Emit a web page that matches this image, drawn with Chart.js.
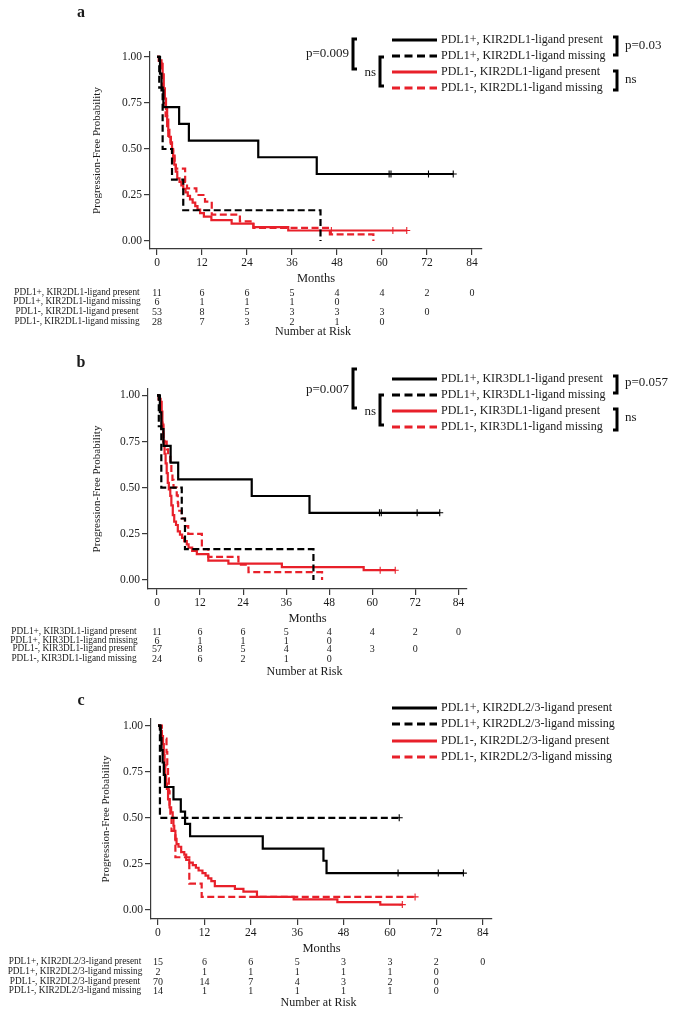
<!DOCTYPE html>
<html>
<head>
<meta charset="utf-8">
<script src="https://cdn.jsdelivr.net/npm/chart.js@4.4.1/dist/chart.umd.min.js"></script>
<style>
  html, body { margin: 0; padding: 0; background: #fff; }
  #wrap { position: relative; width: 681px; height: 1016px; }
  canvas { position: absolute; left: 0; }
</style>
</head>
<body>
<div id="wrap">
  <canvas id="panelA" width="681" height="340" style="top:0"></canvas>
  <canvas id="panelB" width="681" height="340" style="top:340px"></canvas>
  <canvas id="panelC" width="681" height="336" style="top:680px"></canvas>
</div>
<script>
// Kaplan-Meier panels (a, b, c) with legends and number-at-risk tables

const MONTH_TICKS = [0, 12, 24, 36, 48, 60, 72, 84];
const PROB_TICKS = [0, 0.25, 0.5, 0.75, 1];

// ---- panel a: KIR2DL1 ----
const A_NAMES = [
    'PDL1+, KIR2DL1-ligand present',
    'PDL1+, KIR2DL1-ligand missing',
    'PDL1-, KIR2DL1-ligand present',
    'PDL1-, KIR2DL1-ligand missing'
];
const A_POS_PRESENT = [[0,1],[0.8,0.909],[1.2,0.818],[1.7,0.727],[5.9,0.636],[8.5,0.545],[27,0.455],[42.6,0.364],[79,0.364]];
const A_POS_MISSING = [[0,1],[0.6,0.833],[1.5,0.5],[4,0.333],[7,0.167],[43.6,0]];
const A_NEG_PRESENT = [[0,1],[0.5,0.981],[1.2,0.962],[1.5,0.906],[1.8,0.83],[2.1,0.774],[2.4,0.717],[2.7,0.66],[3.0,0.604],[3.3,0.566],[3.7,0.528],[4.0,0.491],[4.3,0.453],[4.6,0.415],[5.0,0.377],[5.4,0.34],[6.0,0.321],[6.5,0.302],[7.0,0.283],[7.6,0.264],[8.2,0.245],[8.8,0.226],[9.5,0.208],[10.2,0.189],[10.8,0.17],[11.5,0.151],[12.5,0.132],[14.5,0.113],[19.9,0.094],[25.7,0.075],[35,0.057],[66.6,0.057]];
const A_NEG_MISSING = [[0,1],[0.5,0.964],[1.3,0.893],[1.6,0.821],[2.0,0.75],[2.3,0.679],[2.7,0.607],[3.0,0.571],[3.6,0.536],[4.0,0.5],[4.3,0.464],[4.7,0.429],[5.0,0.393],[7.5,0.321],[8.0,0.286],[10.5,0.25],[12.8,0.214],[14.6,0.143],[22.1,0.107],[25.7,0.071],[46.1,0.036],[57.7,0]];
const A_CENSORED = [[61.9, 62.4, 72.4, 79], [], [46.5, 62.9, 66.6], []];
const A_AT_RISK = [[11, 6, 6, 5, 4, 4, 2, 0], [6, 1, 1, 1, 0], [53, 8, 5, 3, 3, 3, 0], [28, 7, 3, 2, 1, 0]];

// ---- panel b: KIR3DL1 ----
const B_NAMES = [
    'PDL1+, KIR3DL1-ligand present',
    'PDL1+, KIR3DL1-ligand missing',
    'PDL1-, KIR3DL1-ligand present',
    'PDL1-, KIR3DL1-ligand missing'
];
const B_POS_PRESENT = [[0,1],[0.8,0.909],[1.2,0.818],[1.8,0.727],[3.8,0.636],[5.9,0.545],[26.4,0.455],[42.5,0.364],[78.8,0.364]];
const B_POS_MISSING = [[0,1],[0.5,0.833],[1.2,0.5],[6.9,0.333],[7.8,0.167],[43.6,0]];
const B_NEG_PRESENT = [[0,1],[0.5,0.982],[1.0,0.965],[1.3,0.912],[1.5,0.842],[1.8,0.754],[2.1,0.684],[2.4,0.632],[2.7,0.579],[3.0,0.526],[3.3,0.491],[3.7,0.456],[4.0,0.404],[4.4,0.351],[4.8,0.316],[5.3,0.298],[5.8,0.263],[6.4,0.246],[7.0,0.228],[7.6,0.211],[8.3,0.193],[8.8,0.175],[9.8,0.158],[11.1,0.14],[14.3,0.105],[19.9,0.088],[34.8,0.07],[57.6,0.053],[66.4,0.053]];
const B_NEG_MISSING = [[0,1],[0.5,0.958],[1.0,0.917],[1.3,0.875],[1.5,0.833],[1.7,0.792],[1.8,0.75],[2.7,0.708],[3.1,0.667],[3.7,0.625],[4.0,0.583],[4.3,0.542],[4.6,0.5],[5.5,0.458],[5.8,0.417],[5.9,0.375],[6.9,0.333],[7.8,0.292],[8.7,0.25],[12.5,0.167],[14.3,0.125],[22.7,0.083],[25.5,0.042],[46,0]];
const B_CENSORED = [[62, 62.5, 72.5, 78.8], [], [62.2, 66.4], []];
const B_AT_RISK = [[11, 6, 6, 5, 4, 4, 2, 0], [6, 1, 1, 1, 0], [57, 8, 5, 4, 4, 3, 0], [24, 6, 2, 1, 0]];

// ---- panel c: KIR2DL2/3 ----
const C_NAMES = [
    'PDL1+, KIR2DL2/3-ligand present',
    'PDL1+, KIR2DL2/3-ligand missing',
    'PDL1-, KIR2DL2/3-ligand present',
    'PDL1-, KIR2DL2/3-ligand missing'
];
const C_POS_PRESENT = [[0,1],[0.7,0.933],[0.9,0.867],[1.2,0.8],[1.5,0.733],[1.8,0.667],[4.0,0.6],[5.9,0.533],[7.0,0.467],[8.3,0.4],[27.1,0.333],[42.8,0.267],[43.6,0.2],[79,0.2]];
const C_POS_MISSING = [[0,1],[0.5,0.5],[62.4,0.5]];
const C_NEG_PRESENT = [[0,1],[0.5,0.986],[0.8,0.971],[1.0,0.943],[1.3,0.9],[1.5,0.843],[1.7,0.786],[1.9,0.729],[2.1,0.686],[2.3,0.657],[2.6,0.6],[3.0,0.557],[3.4,0.529],[3.8,0.5],[4.0,0.457],[4.2,0.429],[4.5,0.386],[4.8,0.357],[5.3,0.343],[6.0,0.314],[6.8,0.3],[7.3,0.271],[8.1,0.257],[9.0,0.243],[9.8,0.229],[10.5,0.214],[11.5,0.2],[12.3,0.186],[13.0,0.171],[13.8,0.157],[14.7,0.129],[19.9,0.114],[22.1,0.1],[25.6,0.071],[35.1,0.057],[46.4,0.043],[57.5,0.029],[63.2,0.029]];
const C_NEG_MISSING = [[0,1],[1.0,0.929],[2.2,0.857],[2.4,0.786],[2.6,0.714],[2.8,0.643],[3.0,0.571],[3.2,0.5],[3.5,0.429],[4.5,0.286],[8.1,0.143],[11.3,0.071],[66.5,0.071]];
const C_CENSORED = [[62.1, 72.5, 79], [62.4], [63.2], [66.5]];
const C_AT_RISK = [[15, 6, 6, 5, 3, 3, 2, 0], [2, 1, 1, 1, 1, 1, 0], [70, 14, 7, 4, 3, 2, 0], [14, 1, 1, 1, 1, 1, 0]];

// ---- styling ----
const SERIF = "'Liberation Serif', 'Times New Roman', serif";
const TEXT_COLOR = '#1a1a1a';
const AXIS_COLOR = '#3a3a3a';
const RED = '#e8202a';
const SERIES_COLORS = ['#000000', '#000000', RED, RED];
const SERIES_DASHED = [false, true, false, true];
const X_AXIS_HEIGHT = 37;

// survival value of a step curve at time t
function survivalAt(steps, t) {
    let s = steps[0][1];
    steps.forEach(([time, value]) => {
        if (time <= t) s = value;
    });
    return s;
}

// legend, brackets, letter and number-at-risk table
function decorPlugin(p) {
    return {
        id: 'decor_' + p.letter,
        afterDraw(chart) {
            const ctx = chart.ctx;
            const xScale = chart.scales.x;
            ctx.save();
            ctx.fillStyle = TEXT_COLOR;
            ctx.textBaseline = 'middle';

            // panel letter
            ctx.font = 'bold 16px ' + SERIF;
            ctx.textAlign = 'center';
            ctx.fillText(p.letter, 81, p.letterY);

            // legend
            ctx.font = '12px ' + SERIF;
            ctx.textAlign = 'left';
            p.names.forEach((name, i) => {
                const y = p.legendY[i];
                ctx.beginPath();
                ctx.setLineDash(SERIES_DASHED[i] ? [8, 4.5] : []);
                ctx.strokeStyle = SERIES_COLORS[i];
                ctx.lineWidth = 3;
                ctx.moveTo(392, y);
                ctx.lineTo(437, y);
                ctx.stroke();
                ctx.fillText(name, 441, y);
            });
            ctx.setLineDash([]);

            // significance brackets
            ctx.strokeStyle = '#000';
            ctx.lineWidth = 3;
            ctx.font = '13px ' + SERIF;
            p.brackets.forEach(b => {
                const arm = b.side === 'left' ? 4 : -4;
                ctx.beginPath();
                ctx.moveTo(b.x + arm, b.y1);
                ctx.lineTo(b.x, b.y1);
                ctx.lineTo(b.x, b.y2);
                ctx.lineTo(b.x + arm, b.y2);
                ctx.stroke();
                if (b.side === 'left') {
                    ctx.textAlign = 'right';
                    ctx.fillText(b.text, b.x - 4, b.ty);
                } else {
                    ctx.textAlign = 'left';
                    ctx.fillText(b.text, b.x + 8, b.ty);
                }
            });

            // number at risk
            ctx.textAlign = 'center';
            p.risk.forEach((row, r) => {
                const y = p.riskY[r];
                ctx.font = '9.3px ' + SERIF;
                ctx.fillText(p.names[r], p.riskLabelX, y);
                ctx.font = '10px ' + SERIF;
                row.forEach((n, j) => {
                    ctx.fillText(String(n), xScale.getPixelForValue(MONTH_TICKS[j]), y);
                });
            });
            ctx.font = '12px ' + SERIF;
            const mid = (chart.chartArea.left + chart.chartArea.right) / 2 - 3;
            ctx.fillText('Number at Risk', mid, p.riskTitleY);
            ctx.restore();
        }
    };
}

function buildPanel(p) {
    const datasets = [];
    p.curves.forEach((steps, i) => {
        datasets.push({
            type: 'line',
            label: p.names[i],
            data: steps.map(([t, s]) => ({ x: t, y: s })),
            borderColor: SERIES_COLORS[i],
            borderWidth: 2.2,
            borderDash: SERIES_DASHED[i] ? [7, 3.5] : [],
            stepped: 'before',
            pointRadius: 0,
            fill: false
        });
    });
    p.censored.forEach((times, i) => {
        if (!times.length) return;
        datasets.push({
            type: 'scatter',
            label: p.names[i] + ' censored',
            data: times.map(t => ({ x: t, y: survivalAt(p.curves[i], t) })),
            pointStyle: 'cross',
            pointRadius: 3.5,
            borderWidth: 1.1,
            borderColor: SERIES_COLORS[i],
            backgroundColor: SERIES_COLORS[i]
        });
    });

    const canvas = document.getElementById(p.canvas);
    const W = canvas.width;
    const H = canvas.height;

    const axisGrid = {
        drawOnChartArea: false,
        drawTicks: true,
        tickLength: 6,
        color: AXIS_COLOR,
        lineWidth: 1.2
    };

    return new Chart(canvas.getContext('2d'), {
        type: 'line',
        data: { datasets: datasets },
        options: {
            responsive: false,
            animation: false,
            devicePixelRatio: 1,
            layout: {
                padding: {
                    left: p.titlePad,
                    top: p.area.top,
                    right: W - p.area.right,
                    bottom: H - p.area.bottom - X_AXIS_HEIGHT
                }
            },
            plugins: {
                legend: { display: false },
                tooltip: { enabled: false }
            },
            scales: {
                x: {
                    type: 'linear',
                    min: p.xMin,
                    max: p.xMax,
                    afterBuildTicks: s => { s.ticks = MONTH_TICKS.map(v => ({ value: v })); },
                    afterFit: s => { s.height = X_AXIS_HEIGHT; },
                    grid: axisGrid,
                    border: { display: true, color: AXIS_COLOR, width: 1.2 },
                    ticks: {
                        font: { family: SERIF, size: 11.5 },
                        color: TEXT_COLOR,
                        padding: 1,
                        maxRotation: 0,
                        autoSkip: false
                    },
                    title: {
                        display: true,
                        text: 'Months',
                        font: { family: SERIF, size: 12.5 },
                        color: TEXT_COLOR,
                        padding: { top: 0, bottom: 0 }
                    }
                },
                y: {
                    type: 'linear',
                    min: p.yMin,
                    max: p.yMax,
                    afterBuildTicks: s => { s.ticks = PROB_TICKS.map(v => ({ value: v })); },
                    afterFit: s => { s.width = p.area.left - p.titlePad; },
                    grid: axisGrid,
                    border: { display: true, color: AXIS_COLOR, width: 1.2 },
                    ticks: {
                        font: { family: SERIF, size: 11.5 },
                        color: TEXT_COLOR,
                        padding: 2,
                        callback: v => Number(v).toFixed(2)
                    },
                    title: {
                        display: true,
                        text: 'Progression-Free Probability',
                        font: { family: SERIF, size: 11 },
                        color: TEXT_COLOR,
                        padding: { top: 6.4, bottom: 0 }
                    }
                }
            }
        },
        plugins: [decorPlugin(p)]
    });
}

buildPanel({
    canvas: 'panelA',
    letter: 'a',
    letterY: 13,
    names: A_NAMES,
    curves: [A_POS_PRESENT, A_POS_MISSING, A_NEG_PRESENT, A_NEG_MISSING],
    censored: A_CENSORED,
    risk: A_AT_RISK,
    area: { left: 150, top: 52, right: 482, bottom: 249 },
    titlePad: 84,
    xMin: -1.87, xMax: 86.67,
    yMin: -0.0435, yMax: 1.027,
    legendY: [40, 56, 72, 88],
    riskY: [293, 302, 312, 322],
    riskLabelX: 77,
    riskTitleY: 332,
    brackets: [
        { side: 'left', x: 353, y1: 39, y2: 69, text: 'p=0.009', ty: 54 },
        { side: 'left', x: 380, y1: 57, y2: 86, text: 'ns', ty: 73 },
        { side: 'right', x: 617, y1: 37, y2: 55, text: 'p=0.03', ty: 46 },
        { side: 'right', x: 617, y1: 71, y2: 90, text: 'ns', ty: 80 }
    ]
});

buildPanel({
    canvas: 'panelB',
    letter: 'b',
    letterY: 23,
    names: B_NAMES,
    curves: [B_POS_PRESENT, B_POS_MISSING, B_NEG_PRESENT, B_NEG_MISSING],
    censored: B_CENSORED,
    risk: B_AT_RISK,
    area: { left: 148, top: 49, right: 467, bottom: 249 },
    titlePad: 84,
    xMin: -2.51, xMax: 86.4,
    yMin: -0.049, yMax: 1.035,
    legendY: [39, 55, 71, 87],
    riskY: [292, 301, 309, 319],
    riskLabelX: 74,
    riskTitleY: 332,
    brackets: [
        { side: 'left', x: 353, y1: 29, y2: 68, text: 'p=0.007', ty: 50 },
        { side: 'left', x: 380, y1: 55, y2: 85, text: 'ns', ty: 72 },
        { side: 'right', x: 617, y1: 36, y2: 53, text: 'p=0.057', ty: 43 },
        { side: 'right', x: 617, y1: 69, y2: 90, text: 'ns', ty: 78 }
    ]
});

buildPanel({
    canvas: 'panelC',
    letter: 'c',
    letterY: 21,
    names: C_NAMES,
    curves: [C_POS_PRESENT, C_POS_MISSING, C_NEG_PRESENT, C_NEG_MISSING],
    censored: C_CENSORED,
    risk: C_AT_RISK,
    area: { left: 151, top: 39, right: 492, bottom: 239 },
    titlePad: 93,
    xMin: -1.81, xMax: 86.4,
    yMin: -0.049, yMax: 1.036,
    legendY: [28, 44, 61, 77],
    riskY: [282, 292, 302, 311],
    riskLabelX: 75,
    riskTitleY: 323,
    brackets: []
});
</script>
</body>
</html>
